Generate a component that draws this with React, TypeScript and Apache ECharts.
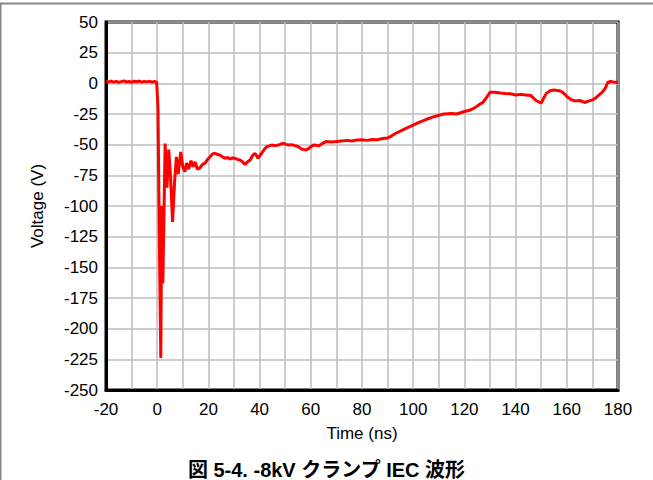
import React, { useEffect, useRef } from "react";
import * as echarts from "echarts";

const times: number[] = [
  -20, -19, -18, -17, -16, -15, -14, -13, -12, -11, -10, -9, -8, -7, -6, -5, -4, -3, -2, -1, -0.5, -0.2,
  0.3, 0.8, 1.4, 1.8, 2.2, 3.1, 3.8, 4.5, 5.2, 6.0, 6.8, 7.5, 8.2, 9.2, 10, 10.8, 11.5, 12.3, 13.2, 14,
  14.8, 15.7, 16.7, 17.7, 18.7, 19.7, 20.7, 21.6, 22.6, 23.5, 24.5, 25.5, 26.5, 27.5, 28.4, 29.4, 30.4,
  31.3, 32.3, 33.3, 34.3, 35.3, 36.3, 37.2, 38.2, 39.4, 40.8, 41.8, 42.8, 43.8, 44.7, 46, 47.3, 48.3,
  49.3, 50.3, 51.2, 52.5, 53.8, 55, 56.4, 57.4, 58.4, 59.5, 61, 62, 63, 64.5, 66, 68, 70, 72, 74, 76, 78,
  80, 82, 84, 86, 88, 90, 91.5, 93, 95, 97, 100, 102, 105, 107, 110, 112, 115, 117, 120, 122, 124, 126,
  127, 128.5, 130, 132, 134, 136, 138, 140, 142, 144, 146, 148, 150, 151, 152, 153.5, 155, 157, 158, 159,
  160, 161.5, 163, 165, 167, 168.5, 170, 171.5, 173, 174, 175, 176, 177, 178, 179, 180,
];

const volts: number[] = [
  1.5, 1.2, 1.8, 1.0, 1.6, 0.8, 1.4, 2.0, 1.1, 1.5, 0.9, 1.7, 1.3, 1.9, 1.0, 1.6, 1.2, 1.8, 1.0, 1.5, 1.2, 0.5,
  -20, -120, -224, -100, -163, -49, -85, -54, -75, -113, -80, -60, -74, -56, -68, -72, -65, -70, -63, -68,
  -64, -70, -69, -66, -65, -62, -59.8, -57.5, -57, -58, -58.4, -60, -61.1, -60.5, -61.7, -60.8, -61.1,
  -62, -62.5, -64, -66, -64, -62.5, -59, -57, -61, -57, -54, -51.6, -51, -50.3, -50.8, -50.3, -49.5,
  -48.9, -49.8, -50.3, -50, -50.8, -51.5, -53.5, -54, -54.3, -52.5, -50.3, -50.5, -51, -49, -47.5, -47.8, -47.5, -47, -46.5, -47, -46.2,
  -46, -46.5, -45.8, -46, -45, -44.5, -43, -40.9, -39, -37, -34.1, -32, -29.5, -28, -26, -25, -24.6, -25, -23, -22, -20, -17,
  -16, -12, -7.3, -7.3, -7.8, -8.2, -8.5, -9.5, -9, -9.5, -10, -14, -16.1, -12, -8.2, -6, -5.5, -6, -6.8, -8.5,
  -10.8, -13, -14.3, -14, -15.6, -14.5, -13.5, -11.5, -8.7, -7, -4.1, 0.7, 1.5, 1.2, 0.8, 0.7,
];

const xTicks = { min: -20, max: 180, interval: 20 };
const yTicks = { min: -250, max: 50, interval: 25 };

const titleText = "図 5-4. -8kV クランプ IEC 波形";
const xName = "Time (ns)";
const yName = "Voltage (V)";

export default function App() {
  const ref = useRef<HTMLDivElement>(null);
  useEffect(() => {
    if (!ref.current) return;
    const chart = echarts.init(ref.current, undefined, { renderer: "svg" });
    const font = "Liberation Sans, Arial, sans-serif";
    const data = times.map((t, i) => [t, volts[i]]);
    chart.setOption({
      animation: false,
      backgroundColor: "#fff",
      title: {
        text: titleText,
        left: "center",
        top: 455,
        textStyle: {
          fontSize: 20,
          fontWeight: "bold",
          color: "#000",
          fontFamily: "Liberation Sans, Noto Sans CJK JP, sans-serif",
        },
      },
      grid: {
        left: 106,
        right: 35,
        top: 22,
        bottom: 90,
        show: true,
        borderColor: "#000",
        borderWidth: 3,
        containLabel: false,
      },
      xAxis: {
        type: "value",
        min: xTicks.min,
        max: xTicks.max,
        interval: xTicks.interval,
        name: xName,
        nameLocation: "middle",
        nameGap: 35,
        nameTextStyle: { fontSize: 17, color: "#000", fontFamily: font },
        axisLine: { show: true, onZero: false, lineStyle: { color: "#000", width: 3 } },
        axisTick: { show: false },
        axisLabel: { fontSize: 17, color: "#000", fontFamily: font, margin: 11 },
        splitLine: { show: true, lineStyle: { color: "#bcbcbc", width: 1.5 } },
        minorTick: { show: false, splitNumber: 2 },
        minorSplitLine: { show: true, lineStyle: { color: "#bcbcbc", width: 1.5 } },
      },
      yAxis: {
        type: "value",
        min: yTicks.min,
        max: yTicks.max,
        interval: yTicks.interval,
        name: yName,
        nameLocation: "middle",
        nameGap: 60,
        nameRotate: 90,
        nameTextStyle: { fontSize: 17, color: "#000", fontFamily: font },
        axisLine: { show: true, onZero: false, lineStyle: { color: "#000", width: 3 } },
        axisTick: { show: false },
        axisLabel: { fontSize: 17, color: "#000", fontFamily: font, margin: 8 },
        splitLine: { show: true, lineStyle: { color: "#bcbcbc", width: 1.5 } },
      },
      graphic: [
        { type: "line", shape: { x1: 0, y1: 3.5, x2: 653, y2: 3.5 }, style: { stroke: "#888", lineWidth: 2 } },
        { type: "line", shape: { x1: 0.5, y1: 3, x2: 0.5, y2: 480 }, style: { stroke: "#888", lineWidth: 2 } },
      ],
      series: [
        {
          type: "line",
          data,
          showSymbol: false,
          symbol: "none",
          lineStyle: { color: "#ff0000", width: 3 },
          z: 5,
        },
      ],
    });
    return () => chart.dispose();
  }, []);
  return (
    <div
      ref={ref}
      style={{ position: "fixed", left: 0, top: 0, width: 653, height: 480 }}
    />
  );
}
